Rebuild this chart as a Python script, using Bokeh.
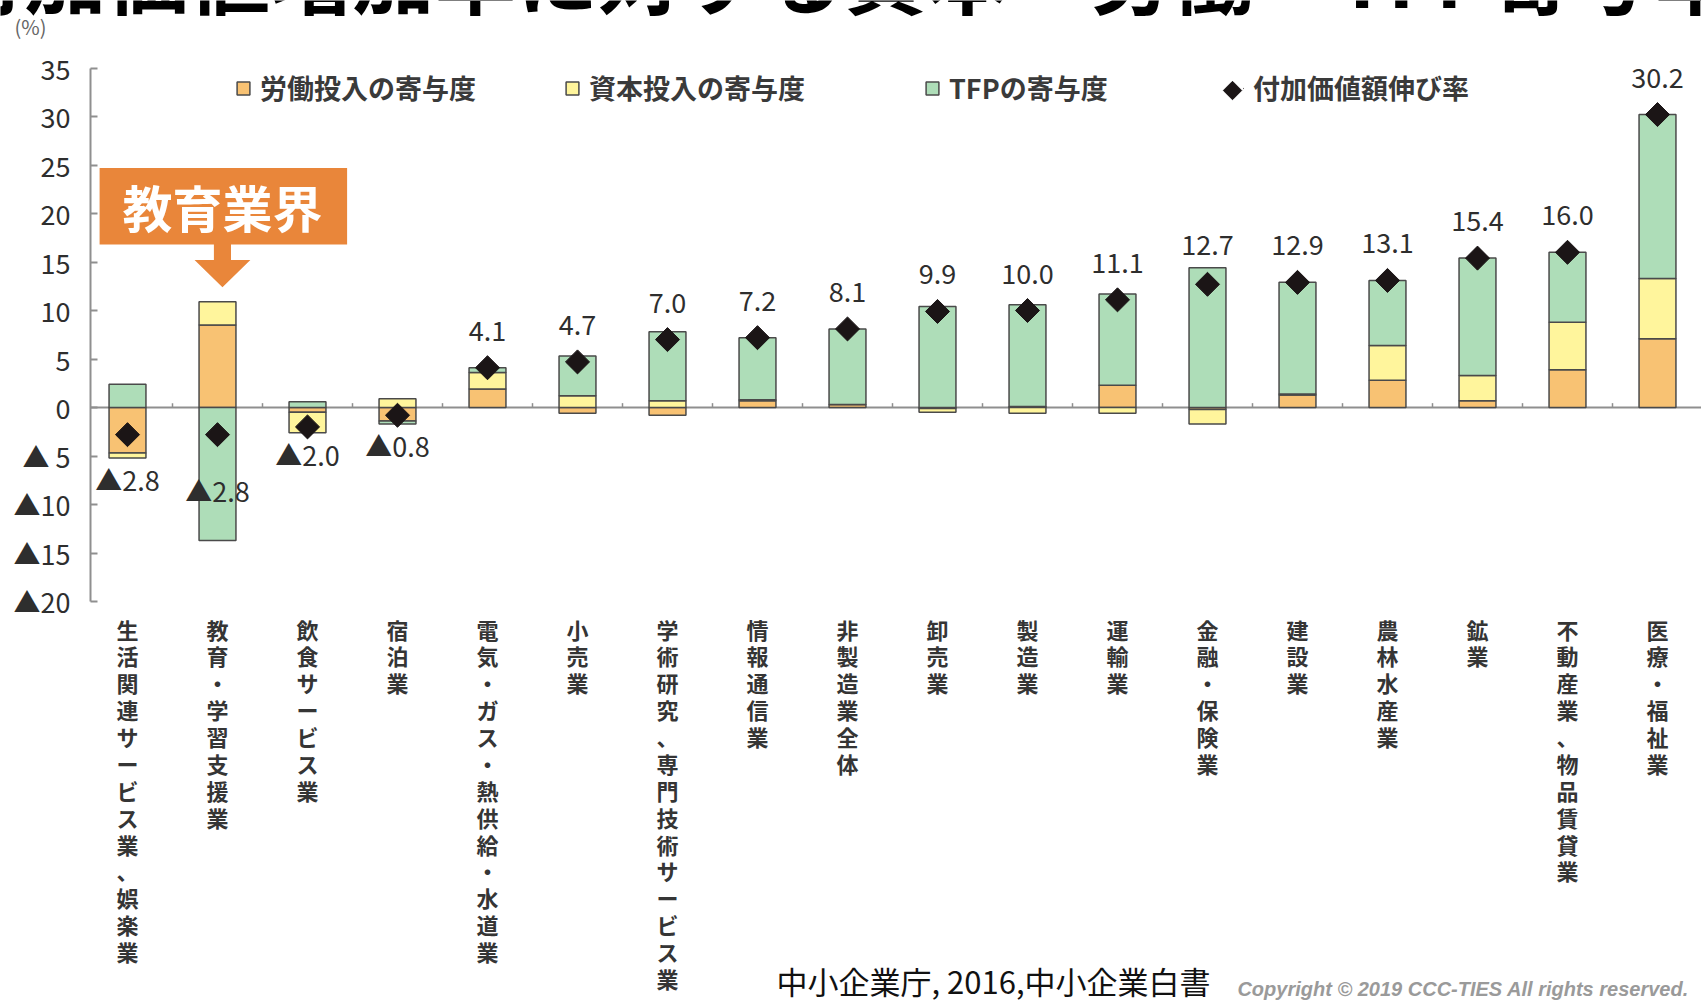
import math
from bokeh.plotting import figure
from bokeh.models import Range1d, FixedTicker, Legend, LegendItem, Label
from bokeh.embed import file_html
from bokeh.resources import INLINE
from bokeh.core.properties import value

# ---------------- data ----------------
categories = ["生活関連サービス業、娯楽業", "教育・学習支援業", "飲食サービス業", "宿泊業",
              "電気・ガス・熱供給・水道業", "小売業", "学術研究、専門技術サービス業", "情報通信業",
              "非製造業全体", "卸売業", "製造業", "運輸業", "金融・保険業", "建設業",
              "農林水産業", "鉱業", "不動産業、物品賃貸業", "医療・福祉業"]
growth = [-2.8, -2.8, -2.0, -0.8, 4.1, 4.7, 7.0, 7.2, 8.1, 9.9, 10.0, 11.1, 12.7, 12.9, 13.1, 15.4, 16.0, 30.2]
labor = [-4.7, 8.5, -0.5, -1.4, 1.9, -0.6, -0.8, 0.7, 0.3, -0.1, 0.1, 2.3, -0.2, 1.3, 2.8, 0.7, 3.9, 7.1]
capital = [-0.5, 2.4, -2.1, 0.9, 1.7, 1.2, 0.7, 0.1, 0.0, -0.4, -0.6, -0.6, -1.5, 0.1, 3.6, 2.6, 4.9, 6.2]
tfp = [2.4, -13.7, 0.6, -0.3, 0.5, 4.1, 7.1, 6.4, 7.8, 10.4, 10.5, 9.4, 14.4, 11.5, 6.7, 12.1, 7.2, 16.9]
series_names = ["労働投入の寄与度", "資本投入の寄与度", "TFPの寄与度"]
growth_name = "付加価値額伸び率"
y_ticks = [-20, -15, -10, -5, 0, 5, 10, 15, 20, 25, 30, 35]
title_text = "付加価値増加率に対する資本・労働・TFP寄与率"
highlight_text = "教育業界"
highlight_cat = "教育・学習支援業"
source_text = "中小企業庁, 2016,中小企業白書"
copyright_text = "Copyright © 2019  CCC-TIES All rights reserved."

# ---------------- styles / layout ----------------
colors = ["#F8C273", "#FFF59C", "#AEDDB8"]
JP = "Noto Sans CJK JP"
W, H = 1701, 1000
n = len(categories)
xs = list(range(n))
PX_X, PX_Y = 90.0, 9.7           # pixels per category / per percentage point
X0 = -127 / PX_X
X1 = X0 + W / PX_X
Y1 = 407 / PX_Y
Y0 = Y1 - H / PX_Y
YAXIS_X = -0.411
CAT_AXIS_Y = -20.0

p = figure(width=W, height=H, output_backend="svg", toolbar_location=None,
           x_range=Range1d(X0, X1), y_range=Range1d(Y0, Y1),
           min_border_left=0, min_border_right=0, min_border_top=0, min_border_bottom=0)
p.outline_line_color = None
p.grid.visible = False
p.background_fill_color = "white"

# zero line and small separator ticks
p.segment(x0=[YAXIS_X], y0=[0], x1=[X1], y1=[0], line_color="#8f8f8f", line_width=2)
p.segment(x0=[i + 0.5 for i in xs[:-1]], y0=[0] * (n - 1), x1=[i + 0.5 for i in xs[:-1]],
          y1=[0.45] * (n - 1), line_color="#8f8f8f", line_width=1.5)

# stacked bars (positive and negative stacked separately)
pos_base = [0.0] * n
neg_base = [0.0] * n
bar_renderers = []
for s, c in zip([labor, capital, tfp], colors):
    bottoms, tops = [], []
    for i, v in enumerate(s):
        if v >= 0:
            b = pos_base[i]; t = b + v; pos_base[i] = t
        else:
            b = neg_base[i]; t = b + v; neg_base[i] = t
        bottoms.append(b); tops.append(t)
    r = p.vbar(x=xs, width=0.41, top=tops, bottom=bottoms, fill_color=c,
               line_color="#4a4a4a", line_width=1.5)
    bar_renderers.append(r)

# diamonds
dia = p.scatter(x=xs, y=growth, marker="square", angle=math.pi / 4, size=17,
                fill_color="#1b1516", line_color="#1b1516")

# value labels
pos_x, pos_y, pos_t, neg_x, neg_y, neg_t = [], [], [], [], [], []
for i, g in enumerate(growth):
    if g >= 0:
        pos_x.append(i); pos_y.append(max(g + 37 / PX_Y, pos_base[i] + 23 / PX_Y)); pos_t.append(f"{g:.1f}")
    else:
        neg_x.append(i); neg_y.append(max(neg_base[i], g - 3.5) - 22 / PX_Y); neg_t.append(f"▲{abs(g):.1f}")
for tx, ty, tt in ((pos_x, pos_y, pos_t), (neg_x, neg_y, neg_t)):
    p.text(x=tx, y=ty, text=tt, text_align="center", text_baseline="middle",
           text_font=value(JP), text_font_size="27px", text_color="#2e2e2e")

# highlight box + arrow
e = categories.index(highlight_cat)
apex = pos_base[e] + 1.5
p.quad(left=[e - 1.31], right=[e + 1.44], top=[apex + 12.3], bottom=[apex + 4.4],
       fill_color="#E9863A", line_color=None)
ac = e + 0.055
p.patch(x=[ac - 0.095, ac + 0.095, ac + 0.095, ac + 0.31, ac, ac - 0.31, ac - 0.095],
        y=[apex + 4.45, apex + 4.45, apex + 2.8, apex + 2.8, apex, apex + 2.8, apex + 2.8],
        fill_color="#E9863A", line_color=None)
p.text(x=[e + 0.056], y=[apex + 8.4], text=[highlight_text], text_align="center", text_baseline="middle",
       text_font=value(JP), text_font_size="50px", text_font_style="bold", text_color="white")

# value axis
yax = p.yaxis[0]
yax.fixed_location = YAXIS_X
yax.bounds = (-20, 35)
yax.ticker = FixedTicker(ticks=y_ticks)
yax.major_label_overrides = {t: (str(t) if t >= 0 else ("▲" + (" " if abs(t) < 10 else "") + str(abs(t)))) for t in y_ticks}
yax.axis_line_color = "#8f8f8f"
yax.axis_line_width = 2
yax.major_tick_line_color = "#8f8f8f"
yax.major_tick_line_width = 2
yax.major_tick_in = 7
yax.major_tick_out = 0
yax.minor_tick_line_color = None
yax.major_label_standoff = 20
yax.major_label_text_font = JP
yax.major_label_text_font_size = "27px"
yax.major_label_text_color = "#2e2e2e"

# category axis (vertical Japanese labels)
xax = p.xaxis[0]
xax.fixed_location = CAT_AXIS_Y
xax.ticker = FixedTicker(ticks=xs)
xax.major_label_overrides = {i: "\n".join(c) for i, c in enumerate(categories)}
xax.axis_line_color = None
xax.major_tick_line_color = None
xax.minor_tick_line_color = None
xax.major_tick_in = 0
xax.major_tick_out = 0
xax.major_label_standoff = 11
xax.major_label_text_font = JP
xax.major_label_text_font_size = "22px"
xax.major_label_text_font_style = "bold"
xax.major_label_text_line_height = 0.84
xax.major_label_text_color = "#353535"

# legends (one per item, placed as in the original)
def make_legend(label, rend, loc, gw):
    return Legend(items=[LegendItem(label=label, renderers=[rend])], location=loc,
                  glyph_width=gw, glyph_height=16, label_standoff=9, padding=0, margin=0,
                  label_text_font=JP, label_text_font_size="27px", label_text_font_style="bold",
                  label_text_color="#3a3a3a", background_fill_alpha=0, border_line_alpha=0)

p.add_layout(make_legend(series_names[0], bar_renderers[0], (235, 893), 16))
p.add_layout(make_legend(series_names[1], bar_renderers[1], (564, 893), 16))
p.add_layout(make_legend(series_names[2], bar_renderers[2], (924, 893), 16))
p.add_layout(make_legend(growth_name, dia, (1243, 893), 1))
# legend key diamond for the growth series (legend keys do not rotate markers)
p.scatter(x=[(1232 - 127) / PX_X], y=[(407 - 90) / PX_Y], marker="square", angle=math.pi / 4,
          size=13, fill_color="#1b1516", line_color="#1b1516")

# texts
p.add_layout(Label(x=-58, y=H - 31, x_units="screen", y_units="screen", text=title_text,
                   text_font=JP, text_font_size="82px", text_font_style="bold",
                   text_color="#000000", text_align="left", text_baseline="bottom"))
p.add_layout(Label(x=14, y=H - 26, x_units="screen", y_units="screen", text="(%)",
                   text_font=JP, text_font_size="20px", text_color="#666666",
                   text_align="left", text_baseline="middle"))
p.add_layout(Label(x=776, y=-2, x_units="screen", y_units="screen", text=source_text,
                   text_font=JP, text_font_size="31px", text_color="#111111",
                   text_align="left", text_baseline="bottom"))
p.add_layout(Label(x=1694, y=1, x_units="screen", y_units="screen", text=copyright_text,
                   text_font="Liberation Sans", text_font_size="20px", text_font_style="bold italic",
                   text_color="#9a9a9a", text_align="right", text_baseline="bottom"))

open("out.html", "w").write(file_html(p, INLINE))
